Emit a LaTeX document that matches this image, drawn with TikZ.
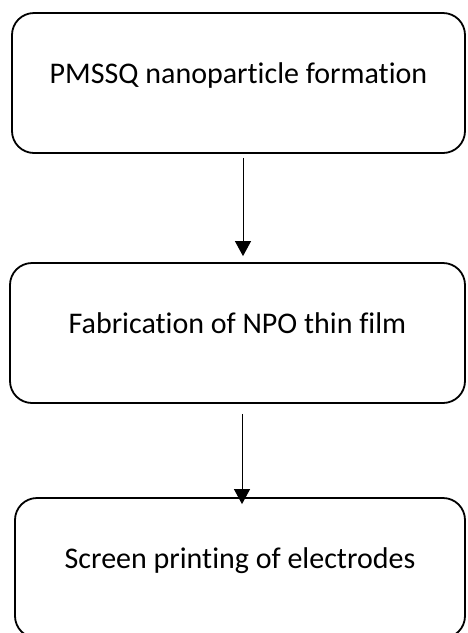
\documentclass[tikz,border=0pt]{standalone}
\usepackage{fontspec}
\setmainfont[Ligatures=NoCommon]{Carlito}
\usetikzlibrary{arrows.meta}
\begin{document}
\begin{tikzpicture}[x=1pt,y=-1pt,
  stepbox/.style={draw, line width=1.8pt, rounded corners=22pt, minimum height=140pt,
    text height=20pt, text depth=20pt, inner sep=0pt, font=\fontsize{30}{36}\selectfont},
  flow/.style={-{Triangle[width=16pt,length=15pt]}, line width=1pt}]
\useasboundingbox (0,0) rectangle (467,633);
\node[stepbox, minimum width=453pt] (b1) at (238.5,83) {PMSSQ nanoparticle formation};
\node[stepbox, minimum width=455pt] (b2) at (237.5,333) {Fabrication of NPO thin film};
\node[stepbox, minimum width=450pt] (b3) at (240,568) {Screen printing of electrodes};
\coordinate (ax1) at (243,0);
\coordinate (ax2) at (242,0);
\draw[flow, shorten <=4pt, shorten >=6pt] (b1.south -| ax1) -- (b2.north -| ax1);
\draw[flow, shorten <=10pt, shorten >=-7pt] (b2.south -| ax2) -- (b3.north -| ax2);
\end{tikzpicture}
\end{document}
